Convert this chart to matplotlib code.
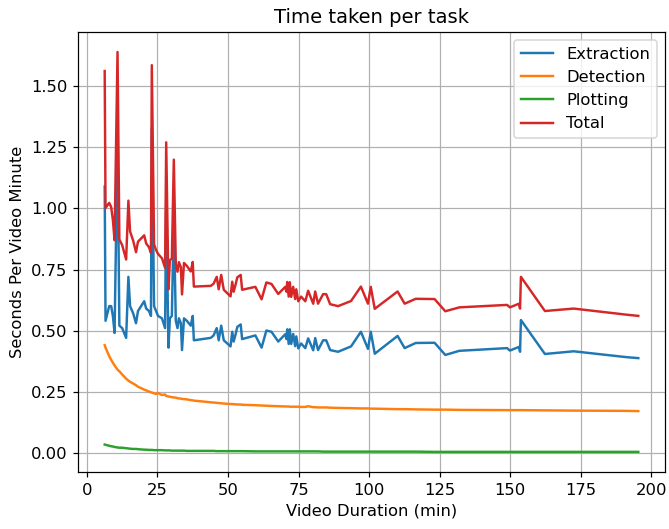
import numpy as np
import matplotlib
matplotlib.use('Agg')
import matplotlib.pyplot as plt

# ── Data ────────────────────────────────────────────────────
duration = [6.3, 6.6, 7.9, 8.6, 9.2, 9.8, 10.85, 11.5, 12.5, 13.9,
            14.7, 15.3, 16.4, 17.4, 18.1, 19.2, 20.3, 21.0, 22.0, 22.7,
            23.0, 23.8, 24.5, 25.2, 26.6, 27.7, 28.1, 28.9, 29.4, 30.1,
            30.8, 31.5, 32.1, 32.6, 33.3, 33.7, 34.4, 35.4, 36.8, 37.5,
            37.9, 43.9, 44.9, 46.0, 46.7, 47.6, 48.5, 50.9, 51.5, 52.0,
            52.7, 53.3, 54.5, 55.0, 59.7, 61.9, 63.6, 65.4, 67.8, 70.3,
            70.7, 71.0, 71.5, 71.9, 72.4, 73.1, 73.8, 74.2, 74.9, 75.9,
            77.4, 78.4, 80.2, 80.9, 81.9, 83.7, 84.8, 86.2, 89.0, 93.6,
            97.1, 99.6, 100.6, 102.0, 110.1, 112.6, 116.5, 123.2, 127.0, 132.0,
            148.9, 149.9, 153.1, 153.5, 153.8, 162.3, 172.5, 191.2, 195.4]

extraction = [1.09, 0.54, 0.60, 0.60, 0.56, 0.49, 1.28, 0.52, 0.51, 0.47,
              0.72, 0.60, 0.57, 0.53, 0.58, 0.60, 0.62, 0.59, 0.58, 0.56,
              1.33, 0.60, 0.58, 0.56, 0.55, 0.51, 1.03, 0.43, 0.55, 0.56,
              0.966, 0.54, 0.51, 0.55, 0.53, 0.42, 0.55, 0.54, 0.52, 0.56,
              0.46, 0.47, 0.48, 0.51, 0.46, 0.52, 0.46, 0.435, 0.495, 0.455,
              0.485, 0.515, 0.525, 0.465, 0.48, 0.43, 0.50, 0.495, 0.455, 0.485,
              0.465, 0.505, 0.445, 0.505, 0.445, 0.486, 0.436, 0.476, 0.427, 0.447,
              0.428, 0.468, 0.419, 0.469, 0.42, 0.46, 0.46, 0.42, 0.413, 0.435,
              0.495, 0.425, 0.495, 0.405, 0.478, 0.428, 0.449, 0.45, 0.40, 0.417,
              0.428, 0.418, 0.433, 0.413, 0.543, 0.404, 0.415, 0.391, 0.387]

detection = [0.440, 0.430, 0.395, 0.380, 0.368, 0.357, 0.340, 0.333, 0.320, 0.303,
             0.295, 0.290, 0.283, 0.276, 0.270, 0.264, 0.258, 0.255, 0.250, 0.247,
             0.246, 0.243, 0.240, 0.244, 0.236, 0.238, 0.232, 0.230, 0.229, 0.227,
             0.226, 0.225, 0.223, 0.222, 0.221, 0.220, 0.219, 0.218, 0.215, 0.214,
             0.213, 0.206, 0.205, 0.204, 0.203, 0.202, 0.201, 0.199, 0.199, 0.198,
             0.198, 0.197, 0.197, 0.196, 0.194, 0.193, 0.192, 0.191, 0.190, 0.189,
             0.189, 0.189, 0.189, 0.188, 0.188, 0.188, 0.188, 0.188, 0.188, 0.187,
             0.187, 0.190, 0.186, 0.186, 0.185, 0.185, 0.185, 0.184, 0.183, 0.182,
             0.181, 0.181, 0.180, 0.180, 0.178, 0.178, 0.177, 0.176, 0.176, 0.175,
             0.174, 0.174, 0.174, 0.174, 0.174, 0.173, 0.172, 0.171, 0.170]

plotting = [0.033, 0.032, 0.028, 0.026, 0.025, 0.023, 0.021, 0.020, 0.020, 0.018,
            0.017, 0.016, 0.015, 0.015, 0.014, 0.013, 0.012, 0.012, 0.011, 0.011,
            0.011, 0.010, 0.010, 0.010, 0.010, 0.009, 0.009, 0.009, 0.009, 0.008,
            0.008, 0.008, 0.008, 0.008, 0.008, 0.008, 0.008, 0.007, 0.007, 0.007,
            0.007, 0.007, 0.007, 0.006, 0.006, 0.006, 0.006, 0.006, 0.006, 0.006,
            0.006, 0.006, 0.006, 0.006, 0.005, 0.005, 0.005, 0.005, 0.005, 0.005,
            0.005, 0.005, 0.005, 0.005, 0.005, 0.005, 0.005, 0.005, 0.005, 0.005,
            0.005, 0.005, 0.005, 0.005, 0.005, 0.004, 0.004, 0.004, 0.004, 0.004,
            0.004, 0.004, 0.004, 0.004, 0.004, 0.004, 0.004, 0.003, 0.003, 0.003,
            0.003, 0.003, 0.003, 0.003, 0.003, 0.003, 0.003, 0.003, 0.003]

# total is the sum of the three stages
total = np.array(extraction) + np.array(detection) + np.array(plotting)

# ── Figure ───────────────────────────────────────────────────
plt.rcParams['font.size'] = 10.7

fig, ax = plt.subplots(figsize=(669 / 110, 529 / 110), dpi=110)
fig.subplots_adjust(left=0.1166, right=0.994, bottom=0.108, top=0.9395)

ax.plot(duration, extraction, label='Extraction', lw=1.6)
ax.plot(duration, detection, label='Detection', lw=1.6)
ax.plot(duration, plotting, label='Plotting', lw=1.6)
ax.plot(duration, total, label='Total', lw=1.6)

ax.set_title('Time taken per task')
ax.set_xlabel('Video Duration (min)')
ax.set_ylabel('Seconds Per Video Minute')
ax.grid(True)
ax.legend(loc='upper right')

fig.savefig('out.png', dpi=110)
